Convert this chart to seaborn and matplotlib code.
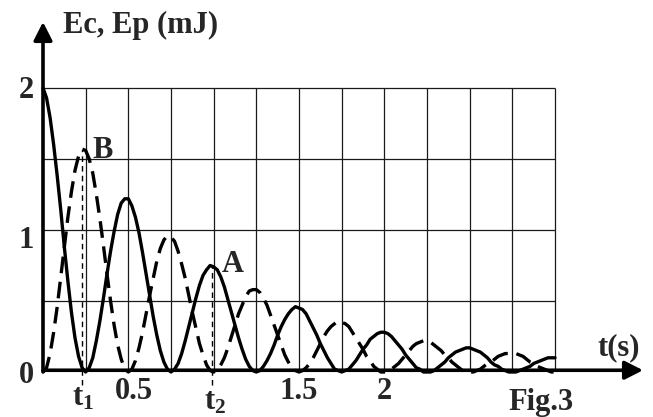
import numpy as np
import matplotlib
matplotlib.use("Agg")
import matplotlib.pyplot as plt
import seaborn as sns

# ---- data ----
t = np.linspace(0, 3, 145)  # time samples (s), step 1/48 s
ep_values = [
    2.00, 1.93, 1.79, 1.60, 1.38, 1.14, 0.88, 0.64, 0.42, 0.24, 0.11, 0.03,
    0.00, 0.03, 0.10, 0.22, 0.36, 0.52, 0.69, 0.85, 0.99, 1.11, 1.19, 1.22,
    1.22, 1.17, 1.09, 0.98, 0.84, 0.69, 0.54, 0.39, 0.26, 0.15, 0.07, 0.02,
    0.00, 0.02, 0.06, 0.13, 0.22, 0.32, 0.42, 0.52, 0.61, 0.68, 0.72, 0.75,
    0.74, 0.72, 0.67, 0.60, 0.51, 0.42, 0.33, 0.24, 0.16, 0.09, 0.04, 0.01,
    0.00, 0.01, 0.04, 0.08, 0.13, 0.19, 0.26, 0.32, 0.37, 0.41, 0.44, 0.46,
    0.45, 0.44, 0.41, 0.36, 0.31, 0.26, 0.20, 0.15, 0.10, 0.06, 0.02, 0.01,
    0.00, 0.01, 0.02, 0.05, 0.08, 0.12, 0.16, 0.19, 0.23, 0.25, 0.27, 0.28,
    0.28, 0.27, 0.25, 0.22, 0.19, 0.16, 0.12, 0.09, 0.06, 0.03, 0.02, 0.00,
    0.00, 0.00, 0.01, 0.03, 0.05, 0.07, 0.10, 0.12, 0.14, 0.15, 0.16, 0.17,
    0.17, 0.16, 0.15, 0.14, 0.12, 0.10, 0.07, 0.05, 0.04, 0.02, 0.01, 0.00,
    0.00, 0.00, 0.01, 0.02, 0.03, 0.04, 0.06, 0.07, 0.08, 0.09, 0.10, 0.10,
    0.10]
ec_values = [
    0.00, 0.03, 0.13, 0.28, 0.46, 0.67, 0.88, 1.09, 1.27, 1.42, 1.52, 1.57,
    1.56, 1.50, 1.40, 1.25, 1.08, 0.89, 0.69, 0.50, 0.33, 0.19, 0.09, 0.02,
    0.00, 0.02, 0.08, 0.17, 0.28, 0.41, 0.54, 0.66, 0.78, 0.87, 0.93, 0.96,
    0.95, 0.92, 0.85, 0.76, 0.66, 0.54, 0.42, 0.31, 0.20, 0.12, 0.05, 0.01,
    0.00, 0.01, 0.05, 0.10, 0.17, 0.25, 0.33, 0.41, 0.47, 0.53, 0.57, 0.58,
    0.58, 0.56, 0.52, 0.47, 0.40, 0.33, 0.26, 0.19, 0.12, 0.07, 0.03, 0.01,
    0.00, 0.01, 0.03, 0.06, 0.10, 0.15, 0.20, 0.25, 0.29, 0.32, 0.34, 0.36,
    0.35, 0.34, 0.32, 0.28, 0.24, 0.20, 0.16, 0.11, 0.08, 0.04, 0.02, 0.00,
    0.00, 0.00, 0.02, 0.04, 0.06, 0.09, 0.12, 0.15, 0.18, 0.20, 0.21, 0.22,
    0.22, 0.21, 0.19, 0.17, 0.15, 0.12, 0.10, 0.07, 0.05, 0.03, 0.01, 0.00,
    0.00, 0.00, 0.01, 0.02, 0.04, 0.06, 0.07, 0.09, 0.11, 0.12, 0.13, 0.13,
    0.13, 0.13, 0.12, 0.11, 0.09, 0.07, 0.06, 0.04, 0.03, 0.02, 0.01, 0.00,
    0.00]
grid_x = [0.25, 0.5, 0.75, 1.0, 1.25, 1.5, 1.75, 2.0, 2.25, 2.5, 2.75, 3.0]
grid_y = [0.5, 1.0, 1.5, 2.0]
ytick_labels = ["2", "1", "0"]
xtick_vals = [0.535, 1.5, 2.0]
xtick_labels = ["0.5", "1.5", "2"]
t1, t2 = 0.229, 0.99
t1_top, t2_top = 1.56, 0.75

# ---- style ----
sns.set_style("white")
plt.rcParams["font.family"] = ["Liberation Serif", "DejaVu Serif"]
plt.rcParams["mathtext.fontset"] = "custom"
plt.rcParams["mathtext.rm"] = "Liberation Serif:bold"
plt.rcParams["mathtext.it"] = "Liberation Serif:bold"
plt.rcParams["mathtext.bf"] = "Liberation Serif:bold"

W, H = 653, 417
FS = 22
fig = plt.figure(figsize=(W / 100, H / 100), dpi=100)
fig.patch.set_facecolor("white")
ax = fig.add_axes([43 / W, 1 - 372 / H, 600 / W, 350 / H])
ax.set_xlim(0, 600 / 170.67)
ax.set_ylim(0, 350 / 142)
for s in ax.spines.values():
    s.set_visible(False)
ax.set_xticks([])
ax.set_yticks([])

# grid
ax.vlines(grid_x, 0, 2.0, color="#1a1a1a", lw=0.9, zorder=1)
ax.hlines(grid_y, 0, 3.0, color="#1a1a1a", lw=0.9, zorder=1)

# curves
sns.lineplot(x=t, y=ep_values, ax=ax, color="black", lw=2.4, zorder=3,
             clip_on=False)
sns.lineplot(x=t, y=ec_values, ax=ax, color="black", lw=2.4, zorder=3,
             linestyle=(0, (5, 2.6)), clip_on=False)

# t1 / t2 dashed markers
ax.vlines([t1], -0.09, t1_top, color="black", lw=1.0, linestyles=(0, (4, 3)),
          clip_on=False, zorder=2)
ax.vlines([t2], -0.09, t2_top, color="black", lw=1.0, linestyles=(0, (4, 3)),
          clip_on=False, zorder=2)

# axes arrows
arrow = dict(arrowstyle="-|>,head_length=0.55,head_width=0.28", lw=2.6,
             color="black", mutation_scale=20, shrinkA=0, shrinkB=0)
ax.annotate("", xy=(1, 0.005), xytext=(0, 0.005), xycoords="axes fraction",
            arrowprops=arrow, annotation_clip=False)
ax.annotate("", xy=(0, 1), xytext=(0, 0), xycoords="axes fraction",
            arrowprops=arrow, annotation_clip=False)


def ptext(x, y, s, **kw):
    fig.text(x / W, 1 - y / H, s, fontsize=kw.pop("fontsize", FS),
             fontweight="bold", **kw)


ptext(63, 33, "Ec, Ep (mJ)", ha="left", va="baseline")
for lab, yb in zip(ytick_labels, [98, 248, 383]):
    ptext(26, yb, lab, ha="center", va="baseline")
for v, lab in zip(xtick_vals, xtick_labels):
    ptext(43 + v * 170.67, 399, lab, ha="center", va="baseline")
ptext(83, 405, r"$\mathrm{t}_{1}$", ha="center", va="baseline")
ptext(215, 410, r"$\mathrm{t}_{2}$", ha="center", va="baseline")
ptext(597, 355, "t(s)", ha="left", va="baseline")
ptext(508, 410, "Fig.3", ha="left", va="baseline")
ptext(92, 158, "B", ha="left", va="baseline")
ptext(222, 272, "A", ha="left", va="baseline")

fig.savefig("out.png", dpi=100)
